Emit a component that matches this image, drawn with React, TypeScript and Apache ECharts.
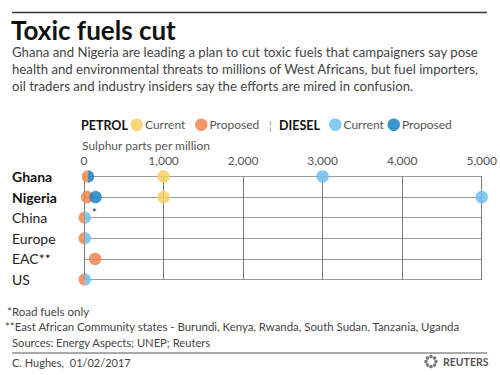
import React, { useEffect, useRef } from 'react';
import * as echarts from 'echarts';

const countries = ['Ghana', 'Nigeria', 'China', 'Europe', 'EAC**', 'US'];
const boldCountries = ['Ghana', 'Nigeria'];
const petrolCurrent: (number | null)[] = [1000, 1000, null, null, null, null];
const petrolProposed: (number | null)[] = [50, 40, 10, 10, 140, 10];
const dieselCurrent: (number | null)[] = [3000, 5000, 10, 10, null, 10];
const dieselProposed: (number | null)[] = [50, 145, null, null, null, null];
const xMin = 0;
const xMax = 5000;
const xInterval = 1000;

const COLORS = {
  petrolCurrent: '#f8cf5f',
  petrolProposed: '#ee8650',
  dieselCurrent: '#6ec0ec',
  dieselProposed: '#1a84c6',
};

const FONT = 'Lato';
const D = 12.5;
const LEFT_HALF = 'path://M10 0A10 10 0 0 0 10 20Z';
const RIGHT_HALF = 'path://M0 0A10 10 0 0 1 0 20Z';

function build(values: (number | null)[], partners: (number | null)[][], side: 'left' | 'right') {
  const out: any[] = [];
  values.forEach((v, i) => {
    if (v == null) return;
    const shared = partners.some((p) => p[i] === v);
    if (shared) {
      out.push({
        value: [v, countries[i]],
        symbol: side === 'left' ? LEFT_HALF : RIGHT_HALF,
        symbolSize: [D / 2, D],
        symbolOffset: [side === 'left' ? -D / 4 : D / 4, 0],
      });
    } else {
      out.push({ value: [v, countries[i]] });
    }
  });
  return out;
}

function txt(text: string, x: number, y: number, font: string, fill = '#333', align = 'left') {
  return {
    type: 'text',
    x,
    y,
    silent: true,
    style: { text, font, fill, align, verticalAlign: 'middle' },
  };
}

function legendItem(name: string, left: number) {
  return {
    data: [name],
    left,
    top: 118.5,
    icon: 'circle',
    itemWidth: 12.5,
    itemHeight: 12.5,
    padding: 0,
    selectedMode: false,
    formatter: (n: string) => n.split(' ')[1],
    textStyle: { color: '#555', fontSize: 12, fontFamily: FONT, padding: [0, 0, 0, -3] },
  };
}

export default function App() {
  const ref = useRef<HTMLDivElement>(null);
  useEffect(() => {
    document.body.style.margin = '0';
    const chart = echarts.init(ref.current!, null, { renderer: 'svg' });

    const logoDots: any[] = [];
    for (let k = 0; k < 8; k++) {
      const a = (k / 8) * Math.PI * 2;
      logoDots.push({
        type: 'circle',
        silent: true,
        shape: { cx: 431 + Math.cos(a) * 5, cy: 361.5 + Math.sin(a) * 5, r: 1.8 },
        style: { fill: '#777' },
      });
    }

    const scatterBase = {
      type: 'scatter',
      symbol: 'circle',
      symbolSize: D,
    };

    chart.setOption({
      animation: false,
      backgroundColor: '#ffffff',
      textStyle: { fontFamily: FONT },
      grid: { left: 84, right: 16, top: 176.5, bottom: 95.5 },
      xAxis: {
        type: 'value',
        position: 'top',
        min: xMin,
        max: xMax,
        interval: xInterval,
        axisLine: { show: false },
        axisTick: { show: false },
        axisLabel: {
          color: '#555',
          fontSize: 12,
          fontFamily: FONT,
          margin: 10,
          formatter: (v: number) => v.toLocaleString('en-US'),
        },
        splitLine: { show: true, lineStyle: { color: '#7a7a7a', width: 1 } },
      },
      yAxis: {
        type: 'category',
        data: countries,
        inverse: true,
        boundaryGap: false,
        axisLine: { show: false },
        axisTick: { show: false },
        splitLine: { show: true, lineStyle: { color: '#9a9a9a', width: 1 } },
        axisLabel: {
          align: 'left',
          margin: 72,
          fontFamily: FONT,
          formatter: (v: string) => (boldCountries.includes(v) ? `{b|${v}}` : `{n|${v}}`),
          rich: {
            b: { fontWeight: 'bold', fontSize: 14, color: '#111', fontFamily: FONT },
            n: { fontSize: 14, color: '#222', fontFamily: FONT },
          },
        },
      },
      legend: [
        legendItem('Petrol Current', 130.5),
        legendItem('Petrol Proposed', 195),
        legendItem('Diesel Current', 329),
        legendItem('Diesel Proposed', 387.5),
      ],
      series: [
        {
          ...scatterBase,
          name: 'Petrol Current',
          itemStyle: { color: COLORS.petrolCurrent, opacity: 0.85 },
          data: build(petrolCurrent, [dieselCurrent, dieselProposed], 'left'),
        },
        {
          ...scatterBase,
          name: 'Petrol Proposed',
          itemStyle: { color: COLORS.petrolProposed, opacity: 0.85 },
          data: build(petrolProposed, [dieselCurrent, dieselProposed], 'left'),
        },
        {
          ...scatterBase,
          name: 'Diesel Current',
          itemStyle: { color: COLORS.dieselCurrent, opacity: 0.85 },
          data: build(dieselCurrent, [petrolCurrent, petrolProposed], 'right'),
        },
        {
          ...scatterBase,
          name: 'Diesel Proposed',
          itemStyle: { color: COLORS.dieselProposed, opacity: 0.85 },
          data: build(dieselProposed, [petrolCurrent, petrolProposed], 'right'),
        },
      ],
      graphic: [
        { type: 'line', silent: true, shape: { x1: 12, y1: 12.5, x2: 487, y2: 12.5 }, style: { stroke: '#333', lineWidth: 1.5 } },
        txt('Toxic fuels cut', 11, 30, `bold 26px ${FONT}`, '#111'),
        txt('Ghana and Nigeria are leading a plan to cut toxic fuels that campaigners say pose', 12, 52, `13.2px ${FONT}`, '#444'),
        txt('health and environmental threats to millions of West Africans, but fuel importers,', 12, 69, `13.2px ${FONT}`, '#444'),
        txt('oil traders and industry insiders say the efforts are mired in confusion.', 12, 86, `13.2px ${FONT}`, '#444'),
        txt('PETROL', 81, 125, `bold 12.5px ${FONT}`, '#111'),
        txt('¦', 269, 125, `11px ${FONT}`, '#888'),
        txt('DIESEL', 279, 125, `bold 12.5px ${FONT}`, '#111'),
        txt('Sulphur parts per million', 82, 145, `12px ${FONT}`, '#555'),
        txt('*', 92, 212, `11px ${FONT}`, '#222'),
        txt('*Road fuels only', 7, 311, `11.5px ${FONT}`, '#444'),
        txt('**East African Community states - Burundi, Kenya, Rwanda, South Sudan, Tanzania, Uganda', 5, 326, `11.4px ${FONT}`, '#444'),
        txt('Sources: Energy Aspects; UNEP; Reuters', 12, 342, `11.2px ${FONT}`, '#444'),
        { type: 'line', silent: true, shape: { x1: 12, y1: 353, x2: 487, y2: 353 }, style: { stroke: '#555', lineWidth: 1 } },
        txt('C. Hughes,  01/02/2017', 12, 362, `11px ${FONT}`, '#444'),
        ...logoDots,
        txt('REUTERS', 443, 362, `bold 10.5px ${FONT}`, '#555'),
      ],
    });
    return () => chart.dispose();
  }, []);
  return <div ref={ref} style={{ width: 500, height: 375 }} />;
}
